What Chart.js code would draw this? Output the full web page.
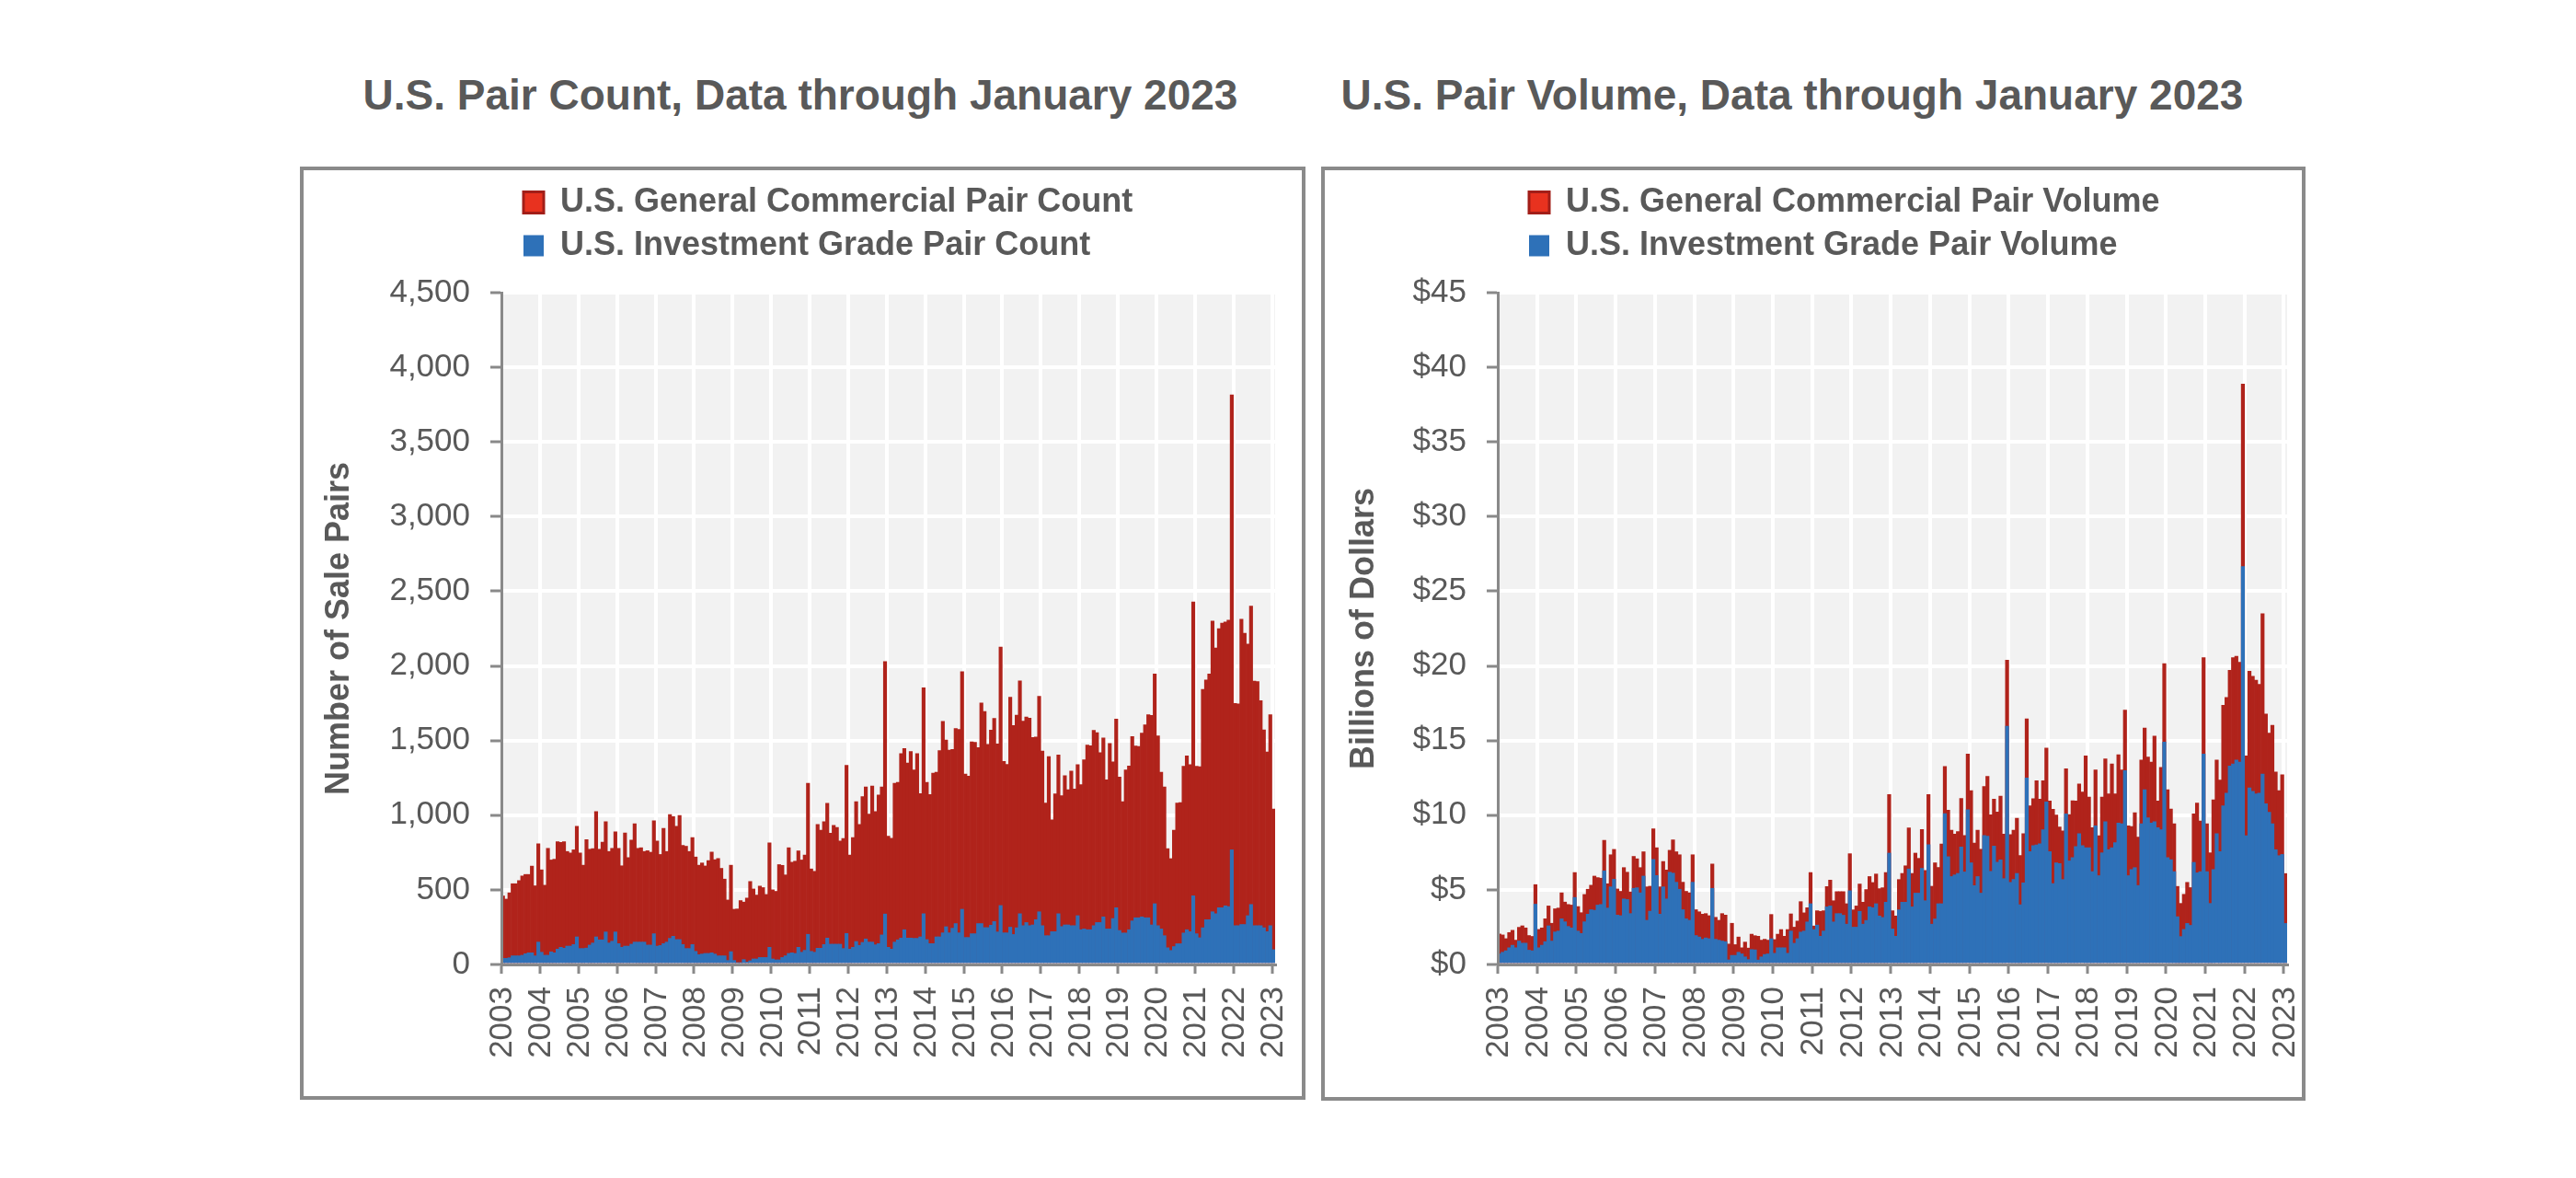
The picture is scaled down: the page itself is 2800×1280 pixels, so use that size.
<!DOCTYPE html>
<html>
<head>
<meta charset="utf-8">
<title>U.S. Pair Count and Pair Volume</title>
<script src="https://cdn.jsdelivr.net/npm/chart.js@4.4.1/dist/chart.umd.min.js"></script>
<style>
  html, body { margin:0; padding:0; background:#fff; }
  body { width:2800px; height:1280px; position:relative; overflow:hidden; font-family:'Liberation Sans', Arial, sans-serif; }
  .ttl { position:absolute; top:75px; transform:translateX(-50%); white-space:nowrap; font-weight:700; font-size:46px; line-height:56px; color:#595959; }
  .box { position:absolute; border:4px solid #8a8a8a; box-sizing:border-box; }
  .box canvas { position:absolute; left:0; top:0; }
</style>
</head>
<body>
<div class="ttl" style="left:870px">U.S. Pair Count, Data through January 2023</div>
<div class="ttl" style="left:1948px">U.S. Pair Volume, Data through January 2023</div>
<div class="box" style="left:326px;top:181px;width:1093px;height:1014px"><canvas id="cCount" width="1085" height="1006"></canvas></div>
<div class="box" style="left:1436px;top:181px;width:1070px;height:1015px"><canvas id="cVolume" width="1062" height="1007"></canvas></div>

<script>
// ── Data (monthly, Jan 2003 – Jan 2023) ──
const yearLabels = ['2003','2004','2005','2006','2007','2008','2009','2010','2011','2012','2013',
  '2014','2015','2016','2017','2018','2019','2020','2021','2022','2023'];

const countSeriesNames = ['U.S. General Commercial Pair Count', 'U.S. Investment Grade Pair Count'];
const volumeSeriesNames = ['U.S. General Commercial Pair Volume', 'U.S. Investment Grade Pair Volume'];

// General commercial pair count
const pairCountGC = [
  459, 438, 480, 541, 541, 562, 593, 603, 603, 659, 527, 809,
  634, 531, 778, 700, 705, 823, 818, 823, 757, 747, 768, 926,
  747, 665, 836, 772, 776, 1025, 772, 819, 957, 757, 778, 889,
  778, 661, 881, 716, 833, 943, 778, 782, 757, 762, 752, 963,
  827, 737, 912, 757, 1004, 990, 926, 998, 798, 792, 757, 850,
  720, 665, 680, 660, 696, 753, 702, 710, 644, 572, 432, 665,
  370, 372, 428, 418, 445, 556, 506, 465, 525, 515, 469, 815,
  500, 490, 669, 664, 600, 782, 685, 692, 761, 700, 733, 1214,
  640, 624, 938, 900, 957, 1080, 880, 932, 918, 827, 844, 1334,
  733, 850, 1091, 938, 1124, 1190, 1008, 1196, 1025, 1136, 1190, 2029,
  860, 846, 1214, 1220, 1412, 1447, 1350, 1426, 1303, 1412, 1144, 1854,
  1220, 1138, 1282, 1288, 1432, 1628, 1504, 1436, 1440, 1581, 1575, 1961,
  1276, 1262, 1492, 1488, 1453, 1751, 1694, 1474, 1570, 1648, 1478, 2126,
  1360, 1340, 1790, 1600, 1670, 1900, 1630, 1657, 1650, 1520, 1523, 1796,
  1429, 1081, 1392, 969, 1143, 1403, 1130, 1264, 1170, 1296, 1175, 1339,
  1205, 1371, 1470, 1465, 1569, 1553, 1419, 1518, 1237, 1480, 1357, 1644,
  1256, 1090, 1304, 1330, 1526, 1464, 1460, 1550, 1606, 1673, 1668, 1946,
  1531, 1288, 1189, 776, 709, 899, 1081, 1085, 1328, 1397, 1339, 2428,
  1328, 1325, 1842, 1906, 1946, 2300, 2120, 2249, 2286, 2294, 2307, 3815,
  1748, 1745, 2313, 2219, 2147, 2401, 1898, 1895, 1767, 1571, 1424, 1673,
  1041
];

// Investment grade pair count
const pairCountIG = [
  41, 41, 45, 58, 58, 58, 62, 72, 78, 78, 58, 150,
  82, 62, 62, 85, 78, 103, 115, 109, 123, 123, 134, 185,
  107, 107, 110, 130, 144, 185, 165, 165, 218, 144, 156, 218,
  140, 115, 123, 123, 136, 150, 150, 150, 150, 130, 130, 206,
  123, 127, 140, 150, 175, 189, 167, 167, 134, 107, 107, 134,
  88, 66, 70, 74, 74, 78, 70, 58, 58, 58, 27, 86,
  27, 12, 12, 33, 16, 25, 37, 37, 47, 47, 47, 115,
  37, 31, 31, 47, 58, 74, 78, 74, 115, 82, 95, 202,
  88, 82, 109, 109, 134, 177, 136, 136, 136, 136, 107, 208,
  103, 115, 154, 128, 148, 171, 150, 150, 132, 140, 198, 338,
  115, 103, 150, 165, 177, 233, 177, 177, 175, 175, 185, 340,
  167, 140, 140, 185, 185, 212, 253, 212, 243, 274, 212, 370,
  181, 181, 206, 206, 274, 274, 247, 247, 263, 288, 218, 395,
  212, 212, 250, 201, 246, 340, 260, 281, 260, 265, 300, 353,
  260, 193, 193, 220, 220, 340, 254, 265, 265, 260, 260, 327,
  233, 238, 233, 233, 260, 281, 281, 319, 238, 238, 308, 380,
  228, 211, 211, 233, 292, 313, 313, 319, 313, 313, 265, 407,
  260, 238, 193, 112, 94, 120, 139, 139, 211, 233, 220, 460,
  206, 179, 246, 300, 300, 353, 340, 380, 380, 393, 388, 768,
  260, 260, 268, 268, 327, 402, 260, 260, 260, 246, 220, 260,
  99
];

// General commercial pair volume, billions of dollars
const pairVolumeGC = [
  2.04, 1.98, 1.73, 2.14, 2.29, 1.63, 2.49, 2.59, 2.45, 1.94, 1.88, 5.35,
  2.35, 2.45, 3.06, 3.92, 2.76, 3.73, 3.78, 4.80, 4.18, 4.02, 3.98, 6.16,
  3.88, 3.47, 4.69, 5.04, 5.31, 5.92, 5.82, 5.78, 8.31, 5.41, 7.35, 7.71,
  5.06, 4.90, 6.49, 6.18, 4.86, 7.24, 7.08, 6.49, 7.55, 5.20, 5.24, 9.08,
  7.82, 5.20, 6.90, 6.33, 7.65, 8.35, 7.55, 7.35, 5.51, 4.90, 4.80, 7.35,
  3.67, 3.53, 3.37, 3.41, 3.27, 6.73, 3.16, 2.96, 3.41, 3.31, 1.37, 2.76,
  1.33, 1.84, 1.12, 1.50, 1.10, 2.03, 1.93, 1.89, 1.63, 1.69, 1.63, 3.35,
  1.67, 2.03, 2.34, 1.89, 2.34, 3.39, 2.50, 2.91, 4.21, 3.46, 3.80, 6.16,
  2.58, 3.60, 3.56, 3.60, 5.22, 5.65, 4.27, 4.88, 4.88, 4.88, 4.07, 7.42,
  3.66, 3.92, 5.39, 4.17, 5.02, 5.89, 5.49, 6.06, 5.08, 5.14, 6.16, 11.38,
  3.60, 3.25, 5.69, 6.10, 6.61, 9.15, 6.10, 7.46, 7.11, 9.04, 6.30, 11.38,
  5.24, 6.81, 6.50, 8.07, 13.27, 10.33, 9.00, 8.74, 8.90, 11.12, 8.64, 14.09,
  11.65, 8.13, 9.00, 7.72, 11.93, 12.60, 10.02, 11.08, 10.22, 11.28, 8.74, 20.39,
  8.70, 9.00, 9.80, 7.30, 8.76, 16.45, 10.63, 11.11, 12.31, 11.08, 12.31, 14.50,
  10.95, 10.40, 10.01, 9.21, 8.95, 13.11, 10.04, 10.97, 10.95, 12.10, 11.56, 13.97,
  11.22, 9.16, 13.03, 8.62, 11.22, 13.78, 11.43, 13.43, 11.43, 14.05, 13.03, 17.04,
  9.29, 9.24, 10.17, 8.54, 13.70, 15.83, 13.89, 13.56, 15.30, 10.95, 13.20, 20.16,
  11.70, 10.41, 9.43, 5.23, 4.09, 4.70, 5.50, 5.15, 10.09, 10.81, 9.61, 20.56,
  9.43, 7.48, 11.03, 13.70, 12.36, 17.36, 17.89, 19.71, 20.56, 20.64, 20.24, 38.88,
  13.97, 19.65, 19.30, 19.04, 18.77, 23.50, 16.77, 15.50, 16.02, 12.90, 11.64, 12.71,
  6.09
];

// Investment grade pair volume, billions of dollars
const pairVolumeIG = [
  0.71, 0.82, 0.92, 1.12, 1.29, 1.12, 1.57, 1.43, 1.43, 0.96, 0.92, 4.04,
  1.12, 1.29, 1.53, 2.59, 1.57, 2.18, 2.24, 3.06, 2.86, 2.55, 2.45, 4.49,
  2.24, 2.08, 2.86, 3.37, 3.67, 3.63, 3.98, 4.02, 6.27, 3.78, 5.20, 5.71,
  3.31, 3.27, 4.39, 4.35, 3.41, 5.10, 5.14, 4.80, 5.92, 2.96, 3.57, 7.04,
  5.96, 3.37, 5.20, 4.39, 6.18, 6.12, 5.51, 5.04, 3.67, 3.06, 2.96, 5.51,
  1.94, 1.84, 1.69, 1.78, 1.73, 5.10, 1.69, 1.63, 1.57, 1.53, 0.31, 0.61,
  0.61, 0.82, 0.71, 0.51, 0.33, 1.00, 0.98, 0.30, 0.51, 0.67, 0.71, 1.73,
  0.75, 1.12, 1.12, 1.12, 0.75, 2.24, 1.42, 1.73, 2.17, 2.24, 2.85, 4.07,
  2.34, 2.64, 1.89, 2.24, 3.86, 3.92, 2.85, 3.41, 3.41, 3.30, 2.70, 4.94,
  2.50, 2.50, 3.56, 2.70, 2.95, 3.86, 3.80, 4.07, 3.25, 3.15, 4.17, 7.46,
  2.38, 1.89, 3.66, 4.17, 4.17, 6.40, 3.86, 4.78, 4.78, 6.44, 4.27, 8.03,
  2.70, 3.05, 4.07, 4.07, 10.10, 7.22, 5.89, 6.00, 6.10, 7.87, 6.20, 10.37,
  6.81, 5.28, 5.89, 4.78, 8.64, 8.60, 6.24, 7.93, 6.85, 7.01, 5.75, 15.96,
  5.50, 5.70, 6.10, 4.00, 5.47, 12.50, 7.56, 7.96, 8.01, 8.09, 9.03, 10.89,
  7.56, 5.42, 6.81, 6.76, 5.69, 10.09, 6.94, 7.16, 7.90, 8.76, 7.96, 7.82,
  7.82, 6.22, 9.29, 5.95, 7.48, 9.56, 7.69, 7.82, 8.17, 9.48, 9.43, 12.98,
  5.95, 6.36, 6.49, 5.29, 9.43, 11.70, 9.83, 9.48, 9.56, 9.16, 9.03, 14.90,
  7.16, 7.02, 6.22, 3.20, 1.87, 2.35, 2.75, 2.62, 6.84, 6.14, 6.22, 14.10,
  6.22, 4.09, 6.36, 8.76, 7.56, 10.63, 11.48, 13.30, 13.43, 13.70, 13.56, 26.65,
  8.62, 11.83, 11.60, 11.43, 11.48, 12.76, 10.76, 10.20, 9.43, 7.69, 7.29, 7.37,
  2.75
];

// month categories: every month of each year, last year only January
const months = [];
yearLabels.forEach(function(y, yi){
  const last = yi === yearLabels.length - 1 ? 1 : 12;
  for(let m = 1; m <= last; m++) months.push(y + '-' + String(m).padStart(2, '0'));
});

// ── Styling ──
const RED = '#B0231B', BLUE = '#2E71B8';
const RED_KEY_FILL = '#E8321F', RED_KEY_EDGE = '#A21E18';
const TEXT = '#595959', AXIS = '#898989', PLOT_BG = '#F2F2F2';
const CLEAR = 'rgba(0,0,0,0)';

Chart.defaults.font.family = "'Liberation Sans', Arial, sans-serif";
Chart.defaults.color = TEXT;

/* grey plot background behind the white grid */
const plotBackground = {
  id: 'plotBackground',
  beforeDraw(chart){
    const a = chart.chartArea, ctx = chart.ctx;
    ctx.save();
    ctx.fillStyle = PLOT_BG;
    ctx.fillRect(a.left, a.top, a.right - a.left, a.bottom - a.top);
    ctx.restore();
  }
};

/* pin the left-aligned legend block to a fixed spot */
const legendNudge = {
  id: 'legendNudge',
  afterLayout(chart, args, opts){
    const lg = chart.legend;
    if(!lg || !opts) return;
    const h = lg.bottom - lg.top;
    lg.left += opts.x;
    lg.right += opts.x;
    lg.top = opts.top;
    lg.bottom = opts.top + h;
  }
};

function makeChart(id, cfg){
  return new Chart(document.getElementById(id), {
    type: 'bar',
    data: {
      labels: months,
      datasets: [
        { label: cfg.names[0], data: cfg.gc, backgroundColor: RED, order: 2 },
        { label: cfg.names[1], data: cfg.ig, backgroundColor: BLUE, order: 1 }
      ]
    },
    options: {
      responsive: false,
      animation: false,
      devicePixelRatio: 1,
      datasets: { bar: { barPercentage: 1, categoryPercentage: 1, borderWidth: 0 } },
      layout: { padding: { top: 6, right: cfg.padRight, bottom: 0, left: 0 } },
      plugins: {
        tooltip: { enabled: false },
        legend: {
          position: 'top',
          align: 'start',
          labels: {
            boxWidth: 22, boxHeight: 23, padding: 11, color: TEXT,
            font: { size: 36, weight: 'bold' },
            generateLabels: function(chart){
              return chart.data.datasets.map(function(ds, i){
                return {
                  text: ds.label,
                  fillStyle: i === 0 ? RED_KEY_FILL : BLUE,
                  strokeStyle: i === 0 ? RED_KEY_EDGE : BLUE,
                  lineWidth: i === 0 ? 3 : 0,
                  fontColor: TEXT,
                  hidden: false,
                  datasetIndex: i
                };
              });
            }
          }
        },
        legendNudge: { x: cfg.legendX, top: 6 }
      },
      scales: {
        x: {
          stacked: true,
          offset: true,
          grid: {
            offset: true, lineWidth: 4, tickLength: 10, tickWidth: 3,
            color: function(c){ return c.index % 12 === 0 ? '#FFFFFF' : CLEAR; },
            tickColor: function(c){ return c.index % 12 === 0 ? AXIS : CLEAR; }
          },
          border: { color: AXIS, width: 3, z: 1 },
          ticks: {
            autoSkip: false, maxRotation: 90, minRotation: 90, padding: 14,
            color: TEXT, font: { size: 35 },
            callback: function(v, i){ return i % 12 === 0 ? yearLabels[i / 12] : ''; }
          },
          afterFit: function(s){ s.height = cfg.xHeight; s.paddingLeft = 0; s.paddingRight = 0; }
        },
        y: {
          stacked: false,
          min: 0, max: cfg.max,
          grid: { color: '#FFFFFF', lineWidth: 4, tickLength: 12, tickWidth: 3, tickColor: AXIS },
          border: { color: AXIS, width: 3, z: 1 },
          ticks: { stepSize: cfg.step, padding: 22, color: TEXT, font: { size: 35 }, callback: cfg.fmt },
          title: {
            display: true, text: cfg.yTitle, color: TEXT,
            font: { size: 36, weight: 'bold' },
            padding: { top: cfg.titlePad, bottom: 0 }
          },
          // fixed axis width, and keep the plot top clear of the legend
          afterFit: function(s){ s.width = cfg.yWidth; s.paddingTop = cfg.plotTop; }
        }
      }
    },
    plugins: [plotBackground, legendNudge]
  });
}

makeChart('cCount', {
  names: countSeriesNames, gc: pairCountGC, ig: pairCountIG,
  max: 4500, step: 500,
  fmt: function(v){ return Number(v).toLocaleString('en-US'); },
  yTitle: 'Number of Sale Pairs',
  yWidth: 215, xHeight: 143, padRight: 29, titlePad: 17, legendX: 228, plotTop: 133
});

makeChart('cVolume', {
  names: volumeSeriesNames, gc: pairVolumeGC, ig: pairVolumeIG,
  max: 45, step: 5,
  fmt: function(v){ return '$' + v; },
  yTitle: 'Billions of Dollars',
  yWidth: 188, xHeight: 144, padRight: 16, titlePad: 21, legendX: 211, plotTop: 133
});
</script>
</body>
</html>
